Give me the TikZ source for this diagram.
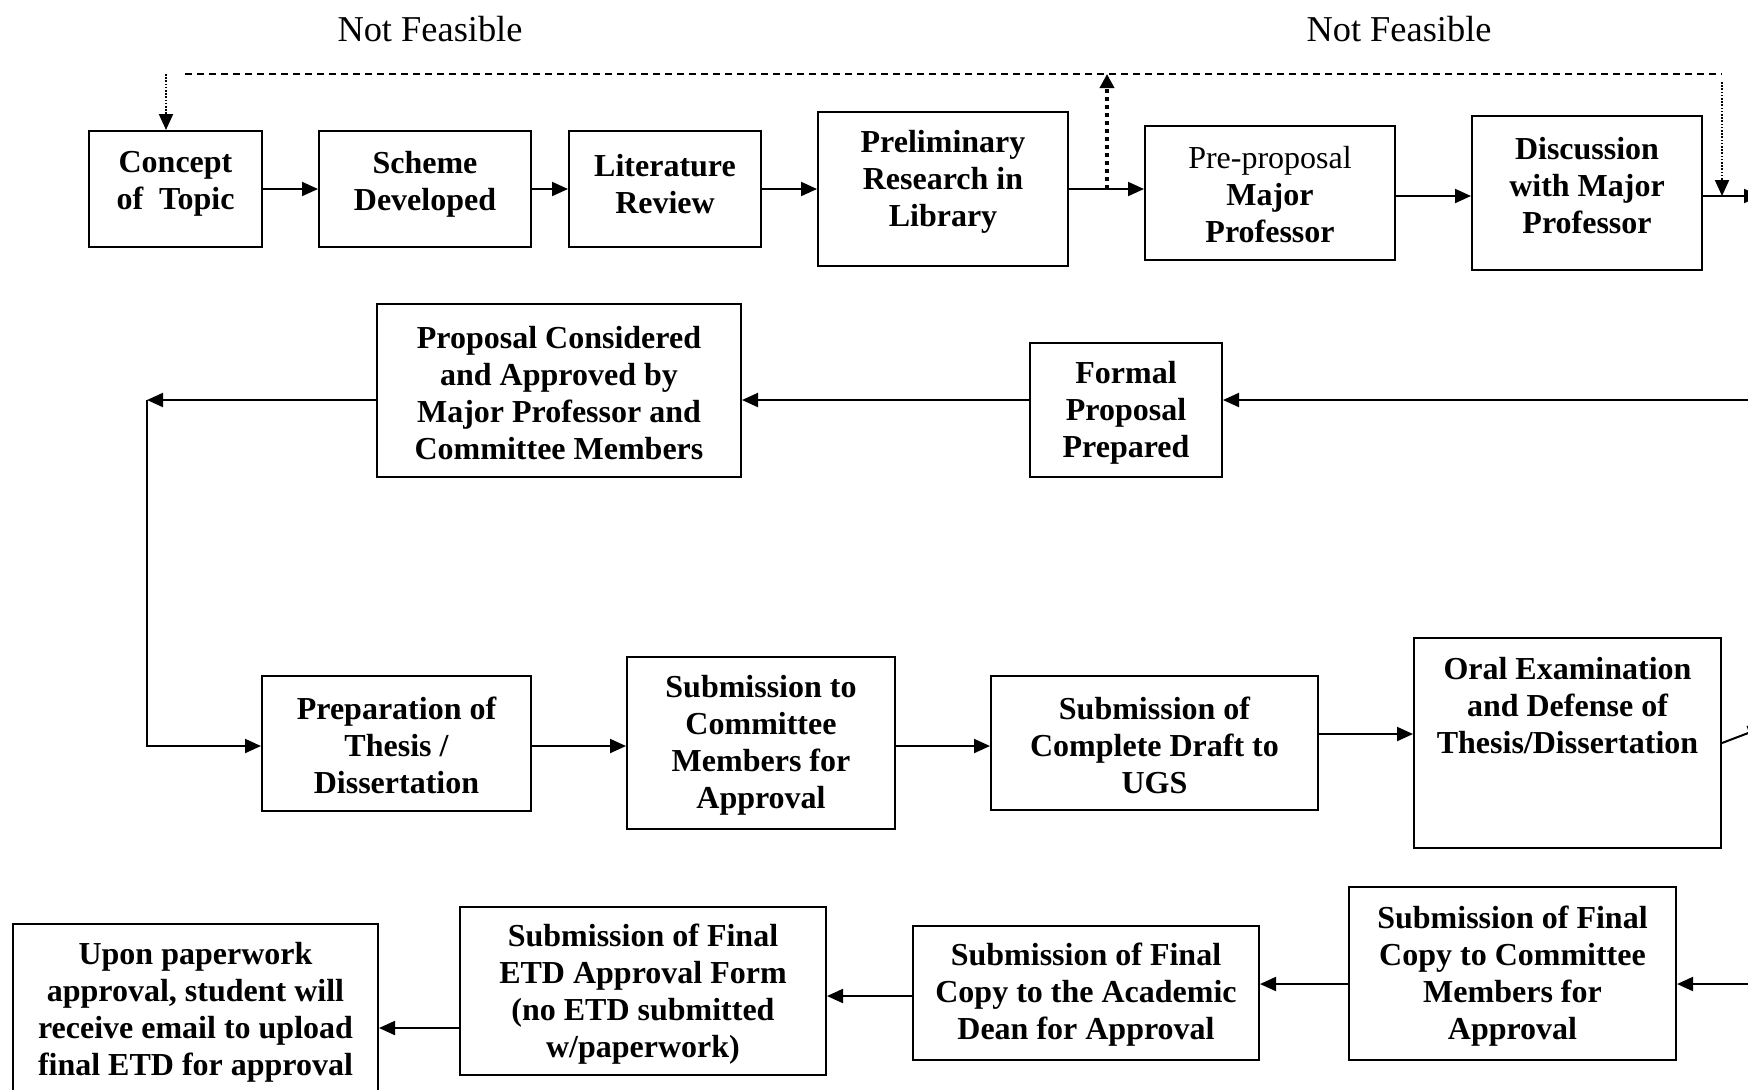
\documentclass[tikz,border=0pt]{standalone}
\usepackage{fontspec}
\setmainfont{Liberation Serif}
\usetikzlibrary{arrows.meta,calc}
\tikzset{
  boxstyle/.style={draw, line width=1pt, inner sep=0pt},
  boxtext/.style={align=center, inner sep=0pt, font=\bfseries\fontsize{16pt}{18.5pt}\selectfont},
  nf/.style={inner sep=0pt, font=\fontsize{18.2pt}{22pt}\selectfont},
  tipA/.style={-{Triangle[length=8pt,width=7pt]}},
  arr/.style={line width=1pt, tipA},
  dashline/.style={line width=0.8pt, dash pattern=on 3.5pt off 2.5pt},
  dotthin/.style={line width=1pt, dash pattern=on 0.8pt off 0.8pt, tipA},
  dotthick/.style={line width=2pt, dash pattern=on 2pt off 2pt, -{Triangle[length=7pt,width=7pt]}}
}
\newcommand\flowbox[7]{%
  \node[boxstyle, minimum width={(#4-#2)*0.5pt}, minimum height={(#5-#3)*0.5pt}] (#1) at ({(#2+#4)/2},{(#3+#5)/2}) {};
  \node[boxtext] (#1-t) at ({(#2+#4)/2},{#6+3}) {#7};
}
\begin{document}
\begin{tikzpicture}[x=0.5pt,y=-0.5pt]
\useasboundingbox (0,0) rectangle (1748,1089);
\fill[white] (0,0) rectangle (1748,1089);
\clip (0,0) rectangle (1748,1089);

% labels
\node[nf, anchor=base] (nf1) at (430,41) {Not Feasible};
\node[nf, anchor=base] (nf2) at (1399,41) {Not Feasible};

% row 1
\flowbox{concept}{89}{131}{262}{247}{181}{Concept\\of~ Topic}
\flowbox{scheme}{319}{131}{531}{247}{181}{Scheme\\Developed}
\flowbox{lit}{569}{131}{761}{247}{181}{Literature\\Review}
\flowbox{prelim}{818}{112}{1068}{266}{179}{Preliminary\\Research in\\Library}
\flowbox{pre}{1145}{126}{1395}{260}{192}{{\mdseries Pre-proposal}\\Major\\Professor}
\flowbox{disc}{1472}{116}{1702}{270}{183}{Discussion\\with Major\\Professor}

% row 2
\flowbox{prop}{377}{304}{741}{477}{390}{Proposal Considered\\and Approved by\\Major Professor and\\Committee Members}
\flowbox{formal}{1030}{343}{1222}{477}{410}{Formal\\Proposal\\Prepared}

% row 3
\flowbox{prep}{262}{676}{531}{811}{742}{Preparation of\\Thesis /\\Dissertation}
\flowbox{subc}{627}{657}{895}{829}{742}{Submission to\\Committee\\Members for\\Approval}
\flowbox{draft}{991}{676}{1318}{810}{742}{Submission of\\Complete Draft to\\UGS}
\flowbox{oral}{1414}{638}{1721}{848}{703}{Oral Examination\\and Defense of\\Thesis/Dissertation}

% row 4
\flowbox{fcomm}{1349}{887}{1676}{1060}{973}{Submission of Final\\Copy to Committee\\Members for\\Approval}
\flowbox{dean}{913}{926}{1259}{1060}{992}{Submission of Final\\Copy to the Academic\\Dean for Approval}
\flowbox{etd}{460}{907}{826}{1075}{991}{Submission of Final\\ETD Approval Form\\(no ETD submitted\\w/paperwork)}
\flowbox{upon}{13}{924}{378}{1100}{1009}{Upon paperwork\\approval, student will\\receive email to upload\\final ETD for approval}

% helper coordinates
\coordinate (dashL) at (185,74);
\coordinate (dashR) at (1722,74);
\coordinate (dotL) at (166,74);
\coordinate (dotR) at (1722,82);
\coordinate (fbUp) at (1107,74);
\coordinate (r1b) at (0,196);
\coordinate (out1) at (1760,196);
\coordinate (in2) at (1748,400);
\coordinate (corner) at (147,400);
\coordinate (r3) at (0,746);
\coordinate (r3b) at (0,734);
\coordinate (r3c) at (0,743);
\coordinate (out3) at (1764,727);
\coordinate (in4) at (1748,984);
\coordinate (r4) at (0,984);
\coordinate (r4b) at (0,996);
\coordinate (r4c) at (0,1028);

% row 1 connectors
\draw[arr] (concept.east) -- (concept.east -| scheme.west);
\draw[arr] (scheme.east) -- (scheme.east -| lit.west);
\draw[arr] (lit.east) -- (lit.east -| prelim.west);
\draw[arr] (prelim.east) -- (prelim.east -| pre.west);
\draw[arr] (pre.east |- r1b) -- (disc.west |- r1b);
\draw[arr] (disc.east |- r1b) -- (out1);

% feedback (not feasible)
\draw[dashline] (dashL) -- (dashR);
\draw[dotthin] (dotL) -- (dotL |- concept.north);
\draw[dotthin] (dotR) -- (dotR |- r1b);
\draw[dotthick] (prelim.east -| fbUp) -- (fbUp);

% row 2 connectors
\draw[arr] (in2) -- (in2 -| formal.east);
\draw[arr] (in2 -| formal.west) -- (in2 -| prop.east);
\draw[arr] (in2 -| prop.west) -- (corner);
\draw[arr] (corner) |- (prep.west |- r3);

% row 3 connectors
\draw[arr] (prep.east |- r3) -- (subc.west |- r3);
\draw[arr] (subc.east |- r3) -- (draft.west |- r3);
\draw[arr] (draft.east |- r3b) -- (oral.west |- r3b);
\draw[arr] (oral.east |- r3c) -- (out3);

% row 4 connectors
\draw[arr] (in4) -- (in4 -| fcomm.east);
\draw[arr] (fcomm.west |- r4) -- (dean.east |- r4);
\draw[arr] (dean.west |- r4b) -- (etd.east |- r4b);
\draw[arr] (etd.west |- r4c) -- (upon.east |- r4c);
\end{tikzpicture}
\end{document}
